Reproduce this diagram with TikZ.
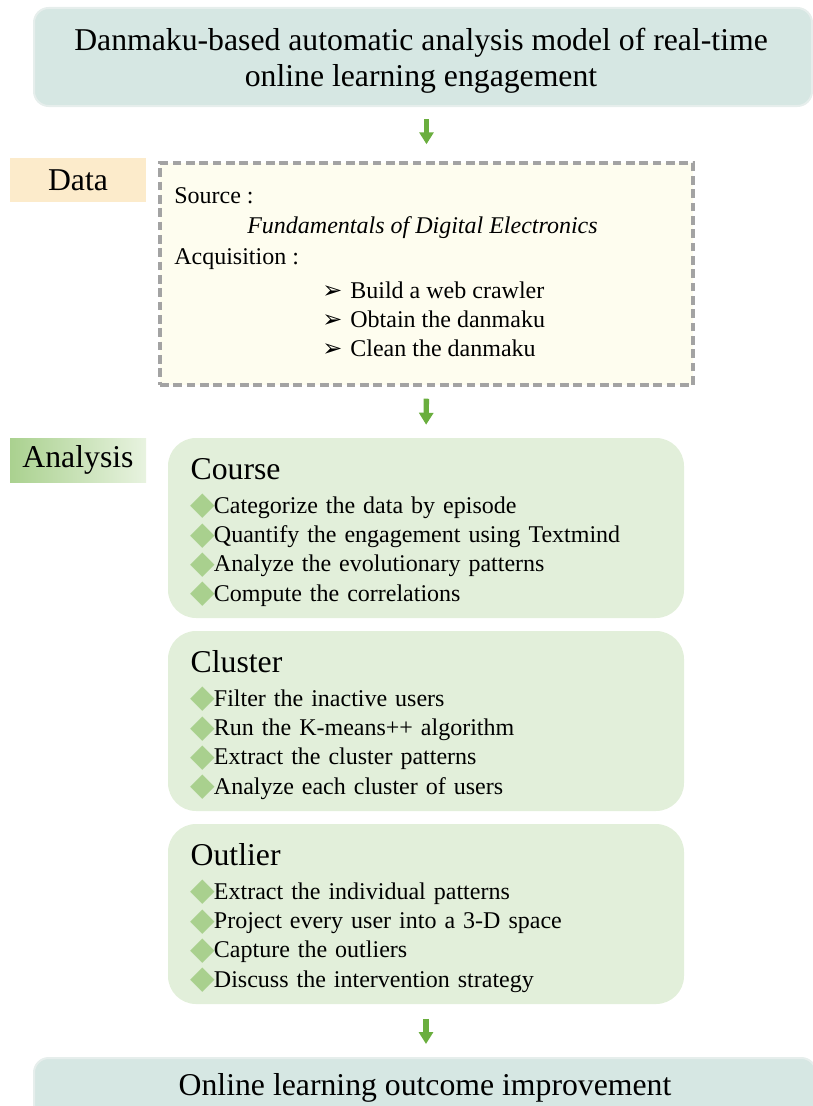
\documentclass[tikz,border=0pt]{standalone}
\usepackage{fontspec}
\setmainfont{Liberation Serif}
\newfontfamily\dingfont{DejaVu Sans}
\usepackage{xcolor}
\usetikzlibrary{arrows.meta, positioning}

\definecolor{bannerfill}{HTML}{D6E7E3}
\definecolor{bannerline}{HTML}{E6EEEC}
\definecolor{datatag}{HTML}{FCEBCB}
\definecolor{datafill}{HTML}{FEFDEF}
\definecolor{dashgray}{HTML}{A3A3A3}
\definecolor{panelfill}{HTML}{E2EFDA}
\definecolor{tipgreen}{HTML}{A9D08E}
\definecolor{flowgreen}{HTML}{6AAE3E}
\definecolor{tagleft}{HTML}{AAD18F}
\definecolor{tagright}{HTML}{E8F3E0}

\newcommand{\largefont}{\fontsize{23.8}{27}\selectfont}
\newcommand{\bodyfont}{\fontsize{18}{22}\selectfont}
\newcommand{\dia}{\raisebox{-1.2pt}{\fontsize{24}{22}\dingfont\color{tipgreen}◆}\hspace{-1pt}}
\newcommand{\tip}{{\dingfont ➢}\hspace{6pt}}

\begin{document}
\begin{tikzpicture}[
  x=0.75pt, y=-0.75pt,
  banner/.style ={rectangle, draw=bannerline, line width=1.5pt, fill=bannerfill,
                  rounded corners=11pt, align=center, font=\largefont},
  tag/.style    ={rectangle, minimum width=102pt, minimum height=33pt,
                  inner sep=0pt, font=\largefont},
  databox/.style={rectangle, draw=dashgray, fill=datafill, line width=2.6pt,
                  dash pattern=on 6.5pt off 3.5pt,
                  minimum width=399.75pt, minimum height=166.5pt},
  line/.style   ={anchor=west, inner sep=0pt, font=\bodyfont},
  panel/.style  ={rectangle, fill=panelfill, rounded corners=21pt,
                  minimum width=387pt, minimum height=135pt,
                  inner xsep=17pt, text width=353pt, align=left, font=\bodyfont},
  flow/.style   ={-{Triangle[length=9pt,width=10.5pt]}, line width=4pt, flowgreen}
]
\useasboundingbox (0,0) rectangle (813,1106);
% ---- Title -----------------------------------------------------------------
\node[banner, minimum width=583.5pt, minimum height=73.5pt] (title) at (423,57) {};
\node[align=center, font=\largefont] (titletext) at (421,61)
  {Danmaku-based automatic analysis model of real-time\\online learning engagement};
% ---- Data stage ------------------------------------------------------------
\node[tag, fill=datatag] (datatag) at (78,180) {Data};
\node[databox] (data) at (426.5,274) {};
\node[line] (src)    at (174,196) {Source :};
\node[line] (srcname) at (247,228) {\textit{Fundamentals of Digital Electronics}};
\node[line] (acq)    at (174,259) {Acquisition :};
\node[line] (crawl)  at (322,290) {\tip Build a web crawler};
\node[line] (obtain) at (322,319) {\tip Obtain the danmaku};
\node[line] (clean)  at (322,348) {\tip Clean the danmaku};
% ---- Analysis stage --------------------------------------------------------
\node[tag, left color=tagleft, right color=tagright] (antag) at (78,460) {Analysis};
\node[panel] (course) at (426,528)
  {{\largefont\rule{0pt}{23pt}Course}\\[3pt]
   \dia Categorize the data by episode\\
   \dia Quantify the engagement using Textmind\\
   \dia Analyze the evolutionary patterns\\
   \dia Compute the correlations};
\node[panel] (cluster) at (426,721)
  {{\largefont\rule{0pt}{23pt}Cluster}\\[3pt]
   \dia Filter the inactive users\\
   \dia Run the K-means++ algorithm\\
   \dia Extract the cluster patterns\\
   \dia Analyze each cluster of users};
\node[panel] (outlier) at (426,914)
  {{\largefont\rule{0pt}{23pt}Outlier}\\[3pt]
   \dia Extract the individual patterns\\
   \dia Project every user into a 3-D space\\
   \dia Capture the outliers\\
   \dia Discuss the intervention strategy};
% ---- Outcome ---------------------------------------------------------------
\node[banner, minimum width=586.5pt, minimum height=45pt] (outcome) at (425,1088)
  {Online learning outcome improvement};
% ---- Arrows ----------------------------------------------------------------
\draw[flow, shorten <=9pt, shorten >=12.75pt] (title.south -| data.north) -- (data.north);
\draw[flow, shorten <=9pt, shorten >=9.75pt] (data.south) -- (course.north);
\draw[flow, shorten <=11pt, shorten >=9.75pt] (outlier.south) -- (outlier.south |- outcome.north);
\end{tikzpicture}
\end{document}
